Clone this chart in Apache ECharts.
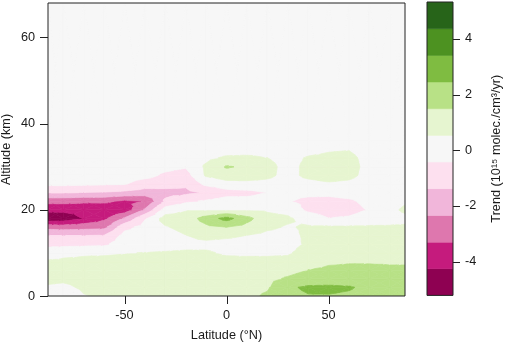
<!DOCTYPE html>
<html><head><meta charset="utf-8">
<script src="https://cdn.jsdelivr.net/npm/echarts@6/dist/echarts.min.js"></script>
<style>html,body{margin:0;padding:0;background:#fff}#c{width:505px;height:344px}</style>
</head><body><div id="c"></div>
<script>
// Grid nodes
const LATITUDES = [-87.5, -80, -70, -60, -50, -40, -30, -20, -10, 0, 10, 20, 30, 40, 50, 60, 70, 80, 87.5];
const ALTITUDES = [0, 2, 4, 6, 8, 10, 12, 14, 16, 18, 20, 22, 24, 26, 28, 30, 32, 34, 36, 68];

// Trend values (10^15 molec./cm3/yr) per latitude column, bottom (0 km) to top (68 km)
const trendS87 = [0.2, 0.47, 0.65, 0.7, 0.62, 0.1, -0.7, -1.35, -2.7, -5.0, -4.0, -3.0, -1.3, -0.2, 0, 0, 0, 0, 0, 0];
const trendS80 = [0.15, 0.4, 0.65, 0.72, 0.65, 0.35, -0.7, -1.35, -2.8, -4.85, -4.0, -3.0, -1.3, -0.2, 0, 0, 0, 0, 0, 0];
const trendS70 = [0.5, 0.62, 0.72, 0.75, 0.65, 0.45, -0.65, -1.35, -2.7, -4.2, -4.0, -3.1, -1.4, -0.25, 0, 0, 0, 0, 0, 0];
const trendS60 = [0.6, 0.7, 0.75, 0.75, 0.7, 0.45, -0.6, -1.3, -2.6, -3.5, -4.0, -3.1, -1.45, -0.3, 0, 0, 0, 0, 0, 0];
const trendS50 = [0.7, 0.75, 0.8, 0.8, 0.72, 0.5, 0.15, -0.1, -0.7, -2.2, -3.9, -3.5, -1.6, -0.35, 0, 0, 0, 0, 0, 0];
const trendS40 = [0.75, 0.8, 0.85, 0.85, 0.75, 0.55, 0.2, 0.0, -0.1, -0.5, -2.2, -3.25, -1.8, -0.9, -0.1, 0, 0, 0, 0, 0];
const trendS30 = [0.8, 0.85, 0.9, 0.9, 0.8, 0.6, 0.2, 0.1, 0.45, 0.95, 0.0, -1.2, -1.7, -1.0, -0.6, -0.15, 0, 0, 0, 0];
const trendS20 = [0.85, 0.9, 0.95, 0.95, 0.85, 0.65, 0.3, 0.5, 0.85, 0.95, 0.45, -0.6, -1.6, -1.2, -0.8, -0.35, 0, 0, 0, 0];
const trendS10 = [0.9, 0.95, 1.0, 1.0, 0.9, 0.65, 0.3, 0.8, 1.3, 1.9, 0.45, -0.3, -1.25, -0.2, 0.65, 0.7, 0.3, 0, 0, 0];
const trendEq  = [1.1, 1.1, 1.05, 1.0, 0.8, 0.4, 0.2, 0.7, 1.5, 2.8, 0.45, 0.0, -0.8, 0.2, 1.0, 1.6, 0.7, 0.1, 0, 0];
const trendN10 = [1.3, 1.3, 1.2, 1.05, 0.8, 0.35, 0.2, 0.5, 1.2, 1.8, 0.45, -0.1, -0.7, 0.3, 0.9, 1.3, 0.75, 0.1, 0, 0];
const trendN20 = [1.6, 1.4, 1.25, 1.1, 0.8, 0.35, 0.15, 0.3, 0.7, 0.85, 0.4, 0.0, -0.4, 0.3, 0.7, 0.75, 0.55, 0.1, 0, 0];
const trendN30 = [2.2, 2.3, 1.6, 1.2, 0.85, 0.4, 0.15, 0.25, 0.45, 0.7, 0.2, -0.35, -0.2, 0.2, 0.3, 0.3, 0.3, 0.1, 0, 0];
const trendN40 = [2.4, 2.6, 1.9, 1.5, 1.2, 1.0, 0.7, 0.7, 0.65, 0.1, -0.6, -0.65, -0.2, 0.3, 0.7, 0.7, 0.6, 0.3, 0, 0];
const trendN50 = [2.4, 2.65, 1.85, 1.6, 1.4, 1.1, 1.0, 0.9, 0.65, -0.4, -0.8, -0.7, -0.2, 0.45, 0.8, 0.8, 0.7, 0.45, 0, 0];
const trendN60 = [2.3, 2.55, 1.9, 1.6, 1.45, 1.1, 1.0, 0.9, 0.65, -0.3, -0.75, -0.55, -0.1, 0.35, 0.75, 0.8, 0.75, 0.5, 0, 0];
const trendN70 = [2.1, 2.2, 1.85, 1.6, 1.45, 1.1, 1.0, 0.9, 0.65, 0.0, -0.35, -0.2, 0.0, 0.1, 0.25, 0.3, 0.25, 0.15, 0, 0];
const trendN80 = [1.9, 2.0, 1.8, 1.55, 1.45, 1.1, 1.0, 0.9, 0.65, 0.1, 0.28, 0.1, 0.0, 0, 0, 0, 0, 0, 0, 0];
const trendN87 = [1.9, 2.0, 1.8, 1.55, 1.45, 1.1, 1.0, 0.9, 0.65, 0.3, 0.7, 0.4, 0.0, 0, 0, 0, 0, 0, 0, 0];
const TREND_COLUMNS = [trendS87, trendS80, trendS70, trendS60, trendS50, trendS40, trendS30, trendS20, trendS10,
  trendEq, trendN10, trendN20, trendN30, trendN40, trendN50, trendN60, trendN70, trendN80, trendN87];

// Contour levels and colours
const LEVELS = [-5.21, -4.25, -3.3, -2.34, -1.38, -0.425, 0.53, 1.49, 2.45, 3.4, 4.36, 5.32];
const LEVEL_COLORS = ['#8E0152', '#C51B7D', '#DE77AE', '#F1B6DA', '#FDE0EF', '#F7F7F7',
  '#E6F5D0', '#B8E186', '#7FBC41', '#4D9221', '#276419'];

// Tick labels
const X_TICKS = [-50, 0, 50];
const Y_TICKS = [0, 20, 40, 60];
const BAR_TICKS = [-4, -2, 0, 2, 4];

const FONT = "'Liberation Sans', Arial, Helvetica, sans-serif";
const FS = 12.7;
const INK = '#1a1a1a';
const TICK_COLOR = '#222';

// cells
const cells = [];
for (let i = 0; i < LATITUDES.length - 1; i++) {
  for (let j = 0; j < ALTITUDES.length - 1; j++) {
    cells.push([LATITUDES[i], LATITUDES[i + 1], ALTITUDES[j], ALTITUDES[j + 1],
      TREND_COLUMNS[i][j], TREND_COLUMNS[i + 1][j], TREND_COLUMNS[i][j + 1], TREND_COLUMNS[i + 1][j + 1]]);
  }
}
const bands = [];
for (let b = 0; b < LEVEL_COLORS.length; b++) bands.push([LEVELS[b], LEVELS[b + 1], b]);

function clipPoly(pts, level, keepAbove) {
  const out = [];
  const n = pts.length;
  for (let k = 0; k < n; k++) {
    const a = pts[k], b = pts[(k + 1) % n];
    const ina = keepAbove ? a[2] >= level : a[2] <= level;
    const inb = keepAbove ? b[2] >= level : b[2] <= level;
    if (ina) out.push(a);
    if (ina !== inb) {
      const t = (level - a[2]) / (b[2] - a[2]);
      out.push([a[0] + t * (b[0] - a[0]), a[1] + t * (b[1] - a[1]), level]);
    }
  }
  return out;
}

function renderCell(params, api) {
  const x0 = api.value(0), x1 = api.value(1), y0 = api.value(2), y1 = api.value(3);
  const v00 = api.value(4), v10 = api.value(5), v01 = api.value(6), v11 = api.value(7);
  const p00 = api.coord([x0, y0]), p10 = api.coord([x1, y0]), p01 = api.coord([x0, y1]), p11 = api.coord([x1, y1]);
  const A = [p00[0], p00[1], v00], B = [p10[0], p10[1], v10], C = [p11[0], p11[1], v11], D = [p01[0], p01[1], v01];
  const M = [(p00[0] + p11[0]) / 2, (p00[1] + p11[1]) / 2, (v00 + v10 + v01 + v11) / 4];
  const tris = [[A, B, M], [B, C, M], [C, D, M], [D, A, M]];
  const children = [];
  const nb = LEVEL_COLORS.length;
  for (const tri of tris) {
    for (let b = 0; b < nb; b++) {
      let poly = tri;
      if (b > 0) poly = clipPoly(poly, LEVELS[b], true);
      if (poly.length < 3) continue;
      if (b < nb - 1) poly = clipPoly(poly, LEVELS[b + 1], false);
      if (poly.length < 3) continue;
      children.push({
        type: 'polygon', silent: true,
        shape: { points: poly.map(p => [p[0], p[1]]) },
        style: { fill: LEVEL_COLORS[b], stroke: LEVEL_COLORS[b], lineWidth: 0.7 }
      });
    }
  }
  return { type: 'group', children };
}

function renderBand(params, api) {
  const lo = api.value(0), hi = api.value(1), idx = api.value(2);
  const a = api.coord([0, lo]), b = api.coord([1, hi]);
  return {
    type: 'rect', silent: true,
    shape: { x: a[0], y: b[1], width: b[0] - a[0], height: a[1] - b[1] },
    style: { fill: LEVEL_COLORS[idx], stroke: LEVEL_COLORS[idx], lineWidth: 0.5 }
  };
}

// tick marks drawn through the axes' own scales
function renderXTick(params, api) {
  const p = api.coord([api.value(0), ALTITUDES[0]]);
  const x = Math.round(p[0]) + 0.5;
  const y = params.coordSys.y + params.coordSys.height;
  return { type: 'line', silent: true, shape: { x1: x, y1: y, x2: x, y2: y + 8 },
    style: { stroke: TICK_COLOR, lineWidth: 1 } };
}
function renderYTick(params, api) {
  const p = api.coord([LATITUDES[0], api.value(1)]);
  const y = Math.round(p[1]) + 0.5;
  const x = params.coordSys.x;
  return { type: 'line', silent: true, shape: { x1: x, y1: y, x2: x - 8, y2: y },
    style: { stroke: TICK_COLOR, lineWidth: 1 } };
}
function renderBarTick(params, api) {
  const p = api.coord([1, api.value(1)]);
  const y = Math.round(p[1]) + 0.5;
  const x = params.coordSys.x + params.coordSys.width;
  return { type: 'line', silent: true, shape: { x1: x, y1: y, x2: x + 7, y2: y },
    style: { stroke: TICK_COLOR, lineWidth: 1 } };
}

const chart = echarts.init(document.getElementById('c'), null, { renderer: 'canvas' });
chart.setOption({
  animation: false,
  backgroundColor: '#ffffff',
  textStyle: { fontFamily: FONT, color: INK },
  grid: [
    { left: 48, top: 3, width: 357, height: 293, show: true, borderColor: '#222', borderWidth: 1, z: 10,
      containLabel: false, outerBoundsMode: 'none' },
    { left: 427, top: 2, width: 26, height: 293.4, show: true, borderColor: '#222', borderWidth: 1, z: 10,
      containLabel: false, outerBoundsMode: 'none' }
  ],
  xAxis: [
    {
      gridIndex: 0, type: 'value', min: -87.5, max: 87.5,
      name: 'Latitude (°N)', nameLocation: 'middle', nameGap: 33, nameMoveOverlap: false,
      nameTextStyle: { fontSize: FS, color: INK, fontFamily: FONT },
      axisLine: { show: false },
      axisTick: { show: false },
      axisLabel: { customValues: X_TICKS, margin: 13, fontSize: FS, color: INK, fontFamily: FONT },
      splitLine: { show: false }
    },
    { gridIndex: 1, type: 'value', min: 0, max: 1, show: false }
  ],
  yAxis: [
    {
      gridIndex: 0, type: 'value', min: 0, max: 68,
      name: 'Altitude (km)', nameLocation: 'middle', nameGap: 35, nameRotate: 90, nameMoveOverlap: false,
      nameTextStyle: { fontSize: FS, color: INK, fontFamily: FONT },
      axisLine: { show: false },
      axisTick: { show: false },
      axisLabel: { customValues: Y_TICKS, margin: 13, fontSize: FS, color: INK, fontFamily: FONT },
      splitLine: { show: false }
    },
    {
      gridIndex: 1, type: 'value', min: LEVELS[0], max: LEVELS[LEVELS.length - 1], position: 'right',
      name: 'Trend (10\u00b9\u2075 molec./cm\u00b3/yr)', nameLocation: 'middle', nameGap: 37, nameRotate: 90,
      nameMoveOverlap: false,
      nameTextStyle: { fontSize: FS, color: INK, fontFamily: FONT },
      axisLine: { show: false },
      axisTick: { show: false },
      axisLabel: { customValues: BAR_TICKS, margin: 12, fontSize: FS, color: INK, fontFamily: FONT },
      splitLine: { show: false }
    }
  ],
  series: [
    {
      type: 'custom', xAxisIndex: 0, yAxisIndex: 0, clip: true,
      encode: { x: [0, 1], y: [2, 3] },
      renderItem: renderCell, data: cells
    },
    {
      type: 'custom', xAxisIndex: 1, yAxisIndex: 1, clip: true,
      encode: { y: [0, 1] },
      renderItem: renderBand, data: bands
    },
    {
      type: 'custom', xAxisIndex: 0, yAxisIndex: 0, clip: false, z: 20,
      encode: { x: 0 }, renderItem: renderXTick, data: X_TICKS.map(v => [v])
    },
    {
      type: 'custom', xAxisIndex: 0, yAxisIndex: 0, clip: false, z: 20,
      encode: { y: 1 }, renderItem: renderYTick, data: Y_TICKS.map(v => [LATITUDES[0], v])
    },
    {
      type: 'custom', xAxisIndex: 1, yAxisIndex: 1, clip: false, z: 20,
      encode: { y: 1 }, renderItem: renderBarTick, data: BAR_TICKS.map(v => [1, v])
    }
  ]
});
</script></body></html>
